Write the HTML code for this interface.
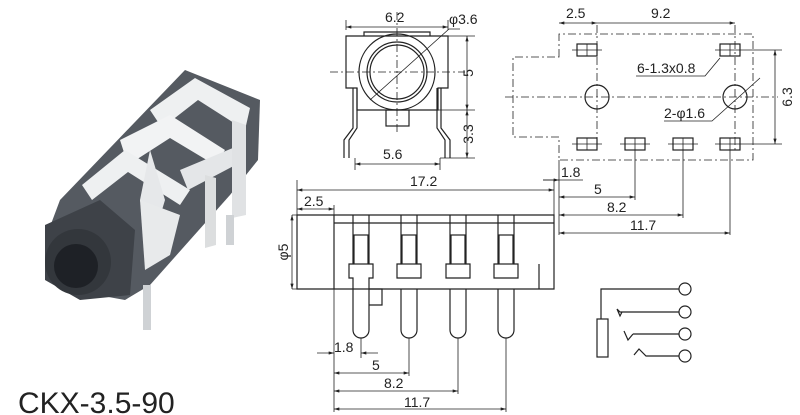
<!DOCTYPE html>
<html><head><meta charset="utf-8"><style>
html,body{margin:0;padding:0;background:#fff}
svg{display:block}
text{font-family:"Liberation Sans",sans-serif;fill:#222}
</style></head><body>
<svg width="800" height="415" viewBox="0 0 800 415" xmlns="http://www.w3.org/2000/svg">
<defs>
<marker id="a" viewBox="0 0 10 6" refX="10" refY="3" markerWidth="10" markerHeight="4" orient="auto-start-reverse"><path d="M0,0L10,3L0,6z" fill="#222"/></marker>
</defs>
<!-- photo -->
<g>
<polygon points="185,70 260,100 258,160 230,195 150,285 125,300 70,290 45,240 60,200" fill="#555a61"/>
<polygon points="150,110 195,78 250,108 245,130 198,100 162,128" fill="#eef0f1"/>
<polygon points="120,140 170,115 225,150 215,165 170,138 128,165" fill="#f2f3f4"/>
<polygon points="82,185 125,150 190,190 180,205 128,172 92,200" fill="#eef0f1"/>
<polygon points="180,170 240,145 245,160 188,190" fill="#e4e6e8"/>
<polygon points="150,150 165,200 150,250 140,200" fill="#e6e8ea"/>
<polygon points="140,200 180,215 170,255 145,270" fill="#e8eaeb"/>
<polygon points="232,120 246,125 246,215 232,218" fill="#e0e2e4"/>
<polygon points="205,175 216,178 216,245 205,248" fill="#dcdedf"/>
<rect x="143" y="285" width="8" height="45" fill="#cfd2d5"/>
<rect x="226" y="215" width="8" height="30" fill="#cfd2d5"/>
<polygon points="45,225 100,200 135,230 130,295 80,300 45,280" fill="#3e4248"/>
<circle cx="78" cy="262" r="33" fill="#33373c"/>
<circle cx="76" cy="266" r="22" fill="#1e2126"/>
</g>
<text x="18" y="413" font-size="30">CKX-3.5-90</text>

<g stroke="#222" stroke-width="1.2" fill="none">
<!-- front view -->
<path d="M346,36H448V88H438V110H357V88H346Z"/>
<path d="M364,36V32H430V36"/>
<circle cx="397" cy="72" r="38"/>
<circle cx="397" cy="72" r="30"/>
<circle cx="397" cy="72" r="27"/>
<rect x="386" y="110" width="23" height="16"/>
<path d="M353,88V128L344,140V158M357,88V128L349,140V158"/>
<path d="M441,88V128L450,140V158M437,88V128L445,140V158"/>
<g stroke-width="0.8">
<path d="M397,12V135M330,72H465" stroke-dasharray="8,3,2,3"/>
<path d="M346,30V20M448,30V20M448,36H475M438,110H475M440,158H475M355,158V170M440,158V170"/>
<path d="M346,27H448" marker-start="url(#a)" marker-end="url(#a)"/>
<path d="M467,36V110" marker-start="url(#a)" marker-end="url(#a)"/>
<path d="M467,110V158" marker-start="url(#a)" marker-end="url(#a)"/>
<path d="M355,164H440" marker-start="url(#a)" marker-end="url(#a)"/>
<path d="M370,100L449,29H460"/>
</g>

<!-- PCB layout -->
<g stroke-width="0.8">
<path d="M559,57V34H753V160H559V137H513V57Z" stroke-dasharray="8,3,2,3"/>
<path d="M505,97H778M597,25V140M735,25V150" stroke-dasharray="8,3,2,3"/>
</g>
<rect x="577" y="44" width="20" height="12"/><rect x="720" y="44" width="20" height="12"/>
<rect x="577" y="138" width="20" height="12"/><rect x="625" y="138" width="20" height="12"/>
<rect x="673" y="138" width="20" height="12"/><rect x="720" y="138" width="20" height="12"/>
<circle cx="597" cy="97" r="12"/><circle cx="735" cy="97" r="12"/>
<g stroke-width="0.8">
<path d="M572,50H602M715,50H745M572,144H602M620,144H650M668,144H698M715,144H745M745,50H782M745,144H782"/>
<path d="M587,44V56M730,44V56M587,138V150M635,138V150M683,138V150M730,138V150"/>
<path d="M559,23H597" marker-start="url(#a)" marker-end="url(#a)"/>
<path d="M597,23H735" marker-end="url(#a)"/>
<path d="M775,50V144" marker-start="url(#a)" marker-end="url(#a)"/>
<path d="M636,76H705L720,58"/>
<path d="M664,121H712L760,78"/>
<path d="M559,160V235M635,150V200M683,150V218M730,150V235"/>
<path d="M543,180H583" /><path d="M543,180H559" marker-end="url(#a)"/>
<path d="M559,197H635" marker-start="url(#a)" marker-end="url(#a)"/>
<path d="M559,215H683" marker-start="url(#a)" marker-end="url(#a)"/>
<path d="M559,233H730" marker-start="url(#a)" marker-end="url(#a)"/>
</g>

<!-- side view -->
<path d="M297,215H554V289H297Z"/>
<path d="M334,215V289M334,223H554"/>
<g>
<path d="M353,215V264H349V278H353V330A8,8 0 0 0 369,330V278H373V264H369V215"/>
<rect x="354" y="235" width="14" height="29"/>
<path d="M401,215V264H397V278H421V264H417V215"/><rect x="402" y="235" width="14" height="29"/>
<path d="M401,289V330A8,8 0 0 0 417,330V289"/>
<path d="M450,215V264H446V278H470V264H466V215"/><rect x="451" y="235" width="14" height="29"/>
<path d="M450,289V330A8,8 0 0 0 466,330V289"/>
<path d="M498,215V264H494V278H518V264H514V215"/><rect x="499" y="235" width="14" height="29"/>
<path d="M498,289V330A8,8 0 0 0 514,330V289"/>
<path d="M369,289H382V305H369M539,264V289"/>
</g>
<g stroke-width="0.8">
<path d="M297,180V215M554,180V215M334,205V215M292,215H300M292,289H300"/>
<path d="M297,190H554" marker-start="url(#a)" marker-end="url(#a)"/>
<path d="M297,209H334" marker-start="url(#a)" marker-end="url(#a)"/>
<path d="M292,215V289" marker-start="url(#a)" marker-end="url(#a)"/>
<path d="M334,289V412M361,338V358M409,338V376M458,338V394M506,338V412"/>
<path d="M317,353H334" marker-end="url(#a)"/><path d="M361,353H378" marker-start="url(#a)"/>
<path d="M334,373H409" marker-start="url(#a)" marker-end="url(#a)"/>
<path d="M334,391H458" marker-start="url(#a)" marker-end="url(#a)"/>
<path d="M334,409H506" marker-start="url(#a)" marker-end="url(#a)"/>
</g>

<!-- schematic -->
<path d="M679,289H601V319"/><rect x="597" y="319" width="11" height="38"/>
<path d="M679,312H620L617,309M617,309L620,316L622,312"/>
<path d="M679,334H633M624,331L628,340L633,334"/>
<path d="M679,356H646L639,349L634,355"/>
<circle cx="685" cy="289" r="6"/><circle cx="685" cy="312" r="6"/><circle cx="685" cy="334" r="6"/><circle cx="685" cy="356" r="6"/>
</g>

<g font-size="14">
<text x="385" y="22">6.2</text>
<text x="449" y="24">φ3.6</text>
<text x="473" y="73" transform="rotate(-90 473 73)" text-anchor="middle">5</text>
<text x="473" y="134" transform="rotate(-90 473 134)" text-anchor="middle">3.3</text>
<text x="383" y="159">5.6</text>
<text x="566" y="18">2.5</text>
<text x="651" y="18">9.2</text>
<text x="637" y="73">6-1.3x0.8</text>
<text x="664" y="118">2-φ1.6</text>
<text x="792" y="97" transform="rotate(-90 792 97)" text-anchor="middle">6.3</text>
<text x="561" y="177">1.8</text>
<text x="594" y="194">5</text>
<text x="607" y="212">8.2</text>
<text x="630" y="230">11.7</text>
<text x="410" y="186">17.2</text>
<text x="304" y="206">2.5</text>
<text x="288" y="252" transform="rotate(-90 288 252)" text-anchor="middle">φ5</text>
<text x="334" y="352">1.8</text>
<text x="372" y="370">5</text>
<text x="384" y="388">8.2</text>
<text x="404" y="407">11.7</text>
</g>
</svg>
</body></html>
